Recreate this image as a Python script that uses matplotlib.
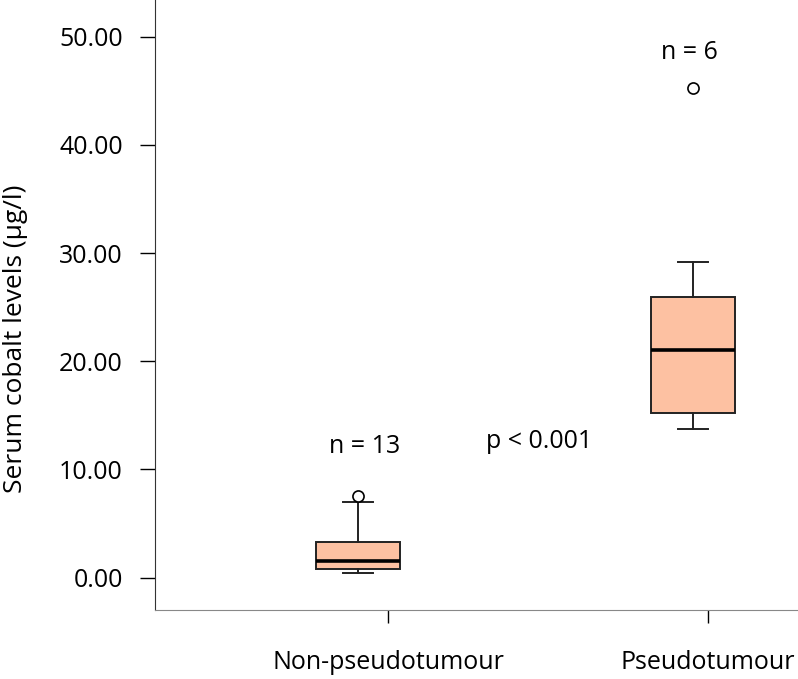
import matplotlib
matplotlib.use("Agg")
import matplotlib.pyplot as plt

plt.rcParams['font.family'] = ['Open Sans', 'DejaVu Sans']

groups = ["Non-pseudotumour", "Pseudotumour"]
counts = [13, 6]
q1 = [0.75, 15.2]
med = [1.5, 21.0]
q3 = [3.3, 25.9]
whislo = [0.45, 13.7]
whishi = [7.0, 29.2]
fliers = [[7.5], [45.3]]
p_text = "p < 0.001"

stats = []
for i in range(len(groups)):
    stats.append(dict(q1=q1[i], med=med[i], q3=q3[i], whislo=whislo[i],
                      whishi=whishi[i], fliers=fliers[i], label=groups[i]))

fig = plt.figure(figsize=(7.98, 6.79), dpi=100)
ax = fig.add_axes([0.194, 0.1016, 0.806, 0.8984])

ax.bxp(stats, positions=[1, 2], widths=0.25, patch_artist=True,
       boxprops=dict(facecolor='#fdc1a2', edgecolor='#222222', linewidth=1.4),
       medianprops=dict(color='black', linewidth=2.6),
       whiskerprops=dict(color='#222222', linewidth=1.4),
       capprops=dict(color='#222222', linewidth=1.4),
       capwidths=0.09,
       flierprops=dict(marker='o', markersize=8, markerfacecolor='white',
                       markeredgecolor='black', markeredgewidth=1.2))

ax.set_xlim(0.394, 2.313)
ax.set_ylim(-3.0, 53.4)
ax.set_yticks([0, 10, 20, 30, 40, 50])
ax.set_yticklabels(["%.2f" % v for v in [0, 10, 20, 30, 40, 50]], fontsize=18)
ax.set_xticks([1.09, 2.045])
ax.set_xticklabels(groups, fontsize=18)
ax.tick_params(axis='y', length=11, width=1, pad=12)
ax.tick_params(axis='x', length=9, width=1, pad=20)
ax.set_ylabel("Serum cobalt levels (µg/l)", fontsize=19)
ax.yaxis.set_label_coords(-0.197, 0.445)

ax.spines['top'].set_visible(False)
ax.spines['right'].set_visible(False)
ax.spines['left'].set_color('#333333')
ax.spines['bottom'].set_color('#888888')

ax.text(1.02, 12.1, "n = %d" % counts[0], ha='center', va='center', fontsize=18)
ax.text(1.99, 48.5, "n = %d" % counts[1], ha='center', va='center', fontsize=18)
ax.text(1.54, 12.6, p_text, ha='center', va='center', fontsize=18)

fig.savefig("out.png", dpi=100)
